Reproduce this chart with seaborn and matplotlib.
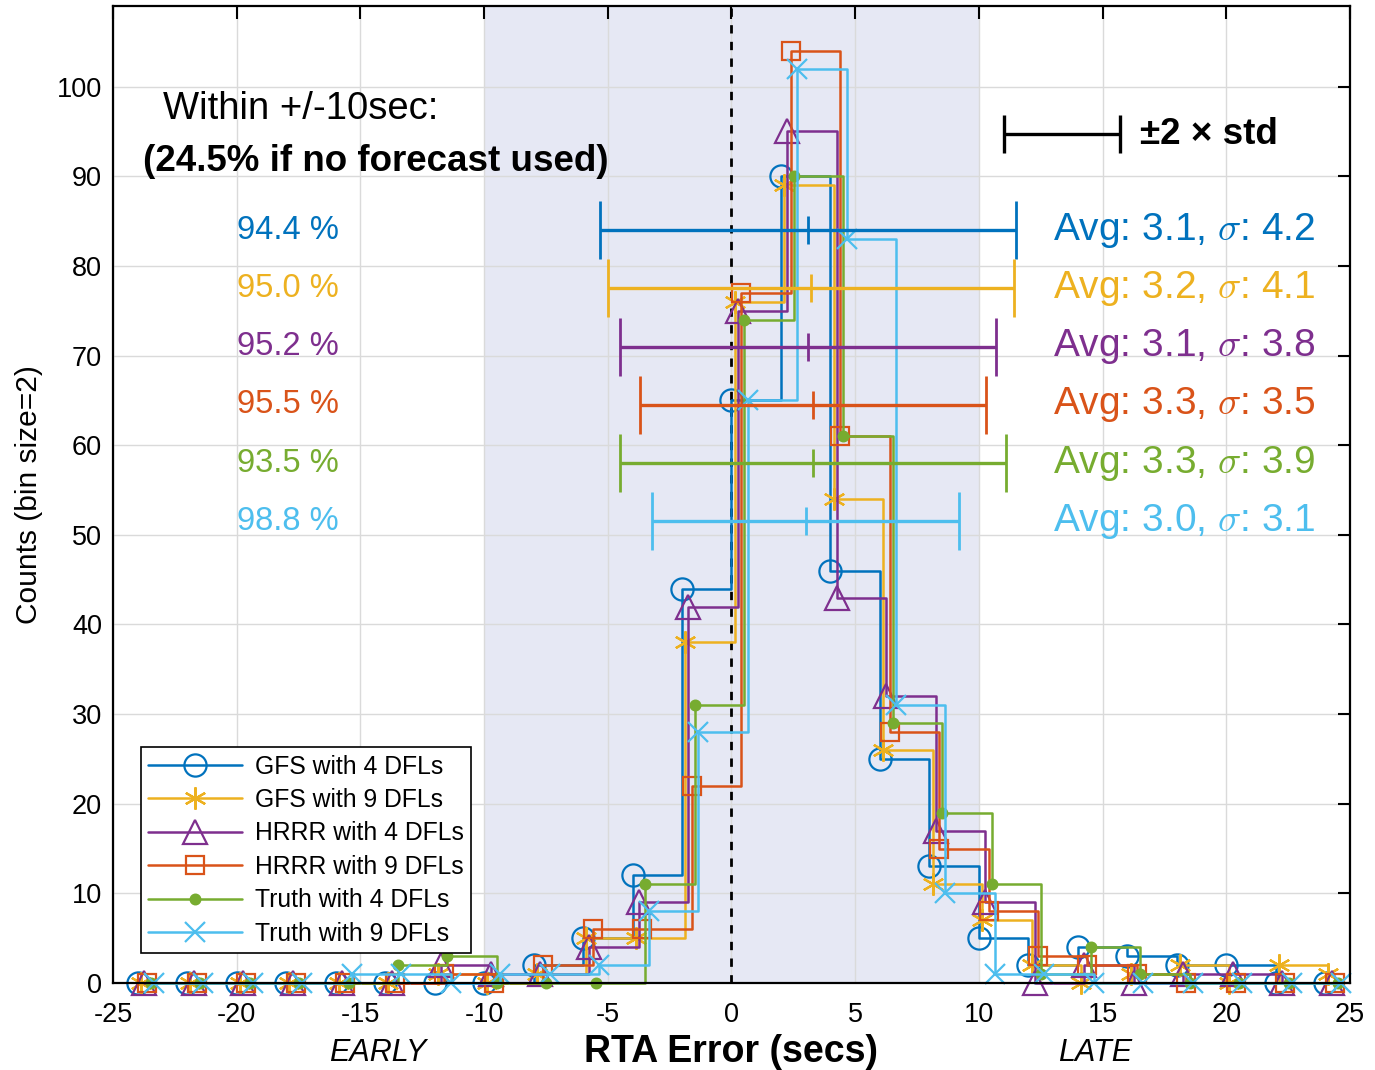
import matplotlib
matplotlib.use("Agg")
import matplotlib.pyplot as plt
import pandas as pd
import seaborn as sns

# Left edges of the 2-second error bins
bin_left = [-24, -22, -20, -18, -16, -14, -12, -10, -8, -6, -4, -2, 0,
            2, 4, 6, 8, 10, 12, 14, 16, 18, 20, 22, 24]

# Counts per bin for each configuration
gfs_4 = [0, 0, 0, 0, 0, 0, 0, 0, 2, 5, 12, 44, 65, 90, 46, 25, 13, 5, 2, 4, 3, 2, 2, 0, 0]
gfs_9 = [0, 0, 0, 0, 0, 0, 1, 0, 1, 5, 5, 38, 76, 89, 54, 26, 11, 7, 2, 0, 1, 2, 0, 2, 1]
hrrr_4 = [0, 0, 0, 0, 0, 0, 2, 1, 1, 4, 9, 42, 75, 95, 43, 32, 17, 9, 0, 2, 0, 1, 1, 0, 0]
hrrr_9 = [0, 0, 0, 0, 0, 0, 1, 0, 2, 6, 6, 22, 77, 104, 61, 28, 15, 8, 3, 2, 1, 0, 0, 0, 0]
truth_4 = [0, 0, 0, 0, 0, 2, 3, 0, 0, 0, 11, 31, 74, 90, 61, 29, 19, 11, 1, 4, 1, 0, 0, 0, 0]
truth_9 = [0, 0, 0, 0, 1, 1, 0, 1, 1, 2, 8, 28, 65, 102, 83, 31, 10, 1, 1, 0, 0, 0, 0, 0, 0]

series_names = ["GFS with 4 DFLs", "GFS with 9 DFLs", "HRRR with 4 DFLs",
                "HRRR with 9 DFLs", "Truth with 4 DFLs", "Truth with 9 DFLs"]
series_counts = [gfs_4, gfs_9, hrrr_4, hrrr_9, truth_4, truth_9]

# Summary statistics of the raw errors
avg_vals = [3.1, 3.2, 3.1, 3.3, 3.3, 3.0]
std_vals = [4.2, 4.1, 3.8, 3.5, 3.9, 3.1]
within_pct = [94.4, 95.0, 95.2, 95.5, 93.5, 98.8]

# Styling
colors = ["#0072BD", "#EDB120", "#7E2F8E", "#D95319", "#77AC30", "#4DBEEE"]
markers = ["o", (6, 2, 0), "^", "s", "o", "x"]
marker_sizes = [16, 16, 17, 13, 7, 15]
marker_filled = [False, False, False, False, True, False]
x_shift = [0.0, 0.13, 0.26, 0.39, 0.52, 0.65]
bar_y = [84, 77.5, 71, 64.5, 58, 51.5]

frames = []
for name, counts, shift in zip(series_names, series_counts, x_shift):
    frames.append(pd.DataFrame({"series": name,
                                "x": [b + shift for b in bin_left],
                                "count": counts}))
data = pd.concat(frames, ignore_index=True)

sns.set_style("white")
plt.rcParams["font.family"] = ["Liberation Sans", "DejaVu Sans"]
plt.rcParams["mathtext.fontset"] = "cm"
plt.rcParams["axes.unicode_minus"] = False
plt.rcParams["text.color"] = "black"
plt.rcParams["axes.labelcolor"] = "black"
plt.rcParams["xtick.color"] = "black"
plt.rcParams["ytick.color"] = "black"

fig = plt.figure(figsize=(13.75, 10.70), dpi=100)
ax = fig.add_axes([0.0822, 0.0813, 0.8996, 0.9131])

# Shaded +/-10 s window and zero line
ax.axvspan(-10, 10, color="#E6E8F4", zorder=0.2, lw=0)
ax.axvline(0, color="black", ls=(0, (3, 3)), lw=2, zorder=1.5)

for i, name in enumerate(series_names):
    sub = data[data["series"] == name]
    face = colors[i] if marker_filled[i] else "none"
    sns.lineplot(data=sub, x="x", y="count", ax=ax, color=colors[i],
                 marker=markers[i], markersize=marker_sizes[i],
                 markerfacecolor=face, markeredgecolor=colors[i],
                 markeredgewidth=1.6, lw=1.8, drawstyle="steps-post",
                 estimator=None, sort=False, label=name, legend=False,
                 clip_on=False, zorder=3 + i)

# Mean +/- 2 std bars
for i in range(len(series_names)):
    ax.errorbar(avg_vals[i], bar_y[i], xerr=2 * std_vals[i], fmt="|",
                color=colors[i], ms=20, mew=2.0, elinewidth=2.4,
                capsize=21, capthick=2.4, zorder=10)
    ax.text(-19.97, bar_y[i], f"{within_pct[i]:.1f} %", color=colors[i],
            fontsize=23.5, va="center", ha="left", zorder=11)
    ax.text(13.0, bar_y[i],
            f"Avg: {avg_vals[i]:.1f}, " + r"$\sigma$" + f": {std_vals[i]:.1f}",
            color=colors[i], fontsize=28, va="center", ha="left", zorder=11)

# Key for the bars
ax.errorbar(13.35, 94.7, xerr=2.35, fmt="none", color="black",
            elinewidth=2.4, capsize=13.5, capthick=2.4, zorder=10)
ax.text(16.5, 94.7, "\u00b12 \u00d7 std", fontsize=26.5, fontweight="bold",
        va="center", ha="left")

ax.text(-23.0, 97.5, "Within +/-10sec:", fontsize=27.5,
        va="center", ha="left")
ax.text(-23.8, 91.6, "(24.5% if no forecast used)", fontsize=26.5,
        fontweight="bold", va="center", ha="left")

# Axes
ax.set_xlim(-25, 25)
ax.set_ylim(0, 109)
ax.set_xticks(range(-25, 26, 5))
ax.set_yticks(range(0, 101, 10))
ax.grid(True, color="#DADADA", lw=1)
ax.set_axisbelow(True)
ax.tick_params(direction="in", top=True, right=True, length=9, width=1.5,
               labelsize=19.5, color="black")
ax.tick_params(axis="y", pad=8)
ax.tick_params(axis="x", pad=14)
for s in ax.spines.values():
    s.set_linewidth(1.6)
    s.set_color("black")
    s.set_zorder(20)

ax.set_xlabel("RTA Error (secs)", fontsize=27, fontweight="bold", labelpad=4)
ax.set_ylabel("Counts (bin size=2)", fontsize=21.5, labelpad=10)
ax.text(-14.3, -7.8, "EARLY", fontsize=22, style="italic", ha="center",
        va="center", clip_on=False)
ax.text(14.7, -7.8, "LATE", fontsize=22, style="italic", ha="center",
        va="center", clip_on=False)

leg = ax.legend(loc="lower left", bbox_to_anchor=(0.0226, 0.0307),
                borderaxespad=0, fontsize=17.8, handlelength=3.8,
                frameon=True, fancybox=False, edgecolor="black",
                framealpha=1, borderpad=0.3, labelspacing=0.38,
                handletextpad=0.5)
leg.get_frame().set_linewidth(1.2)
leg.set_zorder(30)

fig.savefig("out.png", dpi=100)
